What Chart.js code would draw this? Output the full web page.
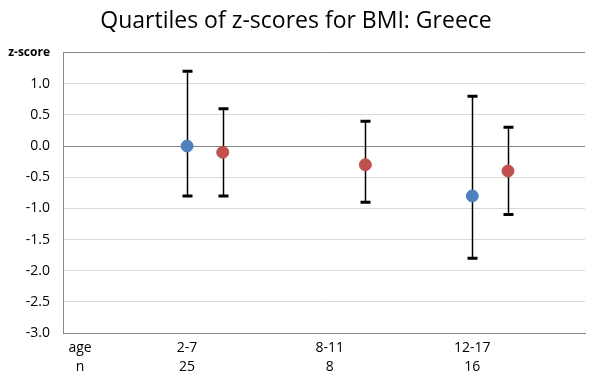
<!DOCTYPE html>
<html>
<head>
<meta charset="utf-8">
<script src="https://cdn.jsdelivr.net/npm/chart.js@4"></script>
<style>
  body { margin: 0; background: #fff; }
  canvas { display: block; }
</style>
</head>
<body>
<canvas id="chart" width="592" height="385"></canvas>
<script>
// Age groups and sample sizes
const ages = ['2-7', '8-11', '12-17'];
const counts = [25, 8, 16];
const catPos = [1, 2, 3];

// Blue series: median and quartiles
const blueMedian = [0.0, null, -0.8];
const blueQ1 = [-0.8, null, -1.8];
const blueQ3 = [1.2, null, 0.8];

// Red series: median and quartiles
const redMedian = [-0.1, -0.3, -0.4];
const redQ1 = [-0.8, -0.9, -1.1];
const redQ3 = [0.6, 0.4, 0.3];
const redOffset = 0.25;

// Y axis
const yMin = -3.0;
const yMax = 1.5;
const yStep = 0.5;

const FONT = "'Open Sans', 'DejaVu Sans', sans-serif";

function makePoints(med, q1, q3, off) {
    const pts = [];
    med.forEach((m, i) => {
        if (m === null) return;
        pts.push({ x: catPos[i] + off, y: m, q1: q1[i], q3: q3[i] });
    });
    return pts;
}

const bluePoints = makePoints(blueMedian, blueQ1, blueQ3, 0);
const redPoints = makePoints(redMedian, redQ1, redQ3, redOffset);

// Whiskers from q1 to q3, drawn under the points
const quartileBars = {
    id: 'quartileBars',
    beforeDatasetsDraw(chart) {
        const ctx = chart.ctx;
        const xs = chart.scales.x;
        const ys = chart.scales.y;
        ctx.save();
        ctx.strokeStyle = '#000';
        chart.data.datasets.forEach(ds => {
            ds.data.forEach(p => {
                const px = Math.round(xs.getPixelForValue(p.x)) + 0.5;
                const top = ys.getPixelForValue(p.q3);
                const bot = ys.getPixelForValue(p.q1);
                ctx.lineWidth = 1.5;
                ctx.beginPath();
                ctx.moveTo(px, top);
                ctx.lineTo(px, bot);
                ctx.stroke();
                ctx.lineWidth = 3;
                ctx.beginPath();
                ctx.moveTo(px - 5, top);
                ctx.lineTo(px + 5, top);
                ctx.moveTo(px - 5, bot);
                ctx.lineTo(px + 5, bot);
                ctx.stroke();
            });
        });
        ctx.restore();
    }
};

new Chart(document.getElementById('chart').getContext('2d'), {
    type: 'scatter',
    data: {
        datasets: [
            {
                label: 'blue',
                data: bluePoints,
                backgroundColor: '#4f81bd',
                borderColor: '#4f81bd',
                pointRadius: 6,
                pointHoverRadius: 6
            },
            {
                label: 'red',
                data: redPoints,
                backgroundColor: '#c0504d',
                borderColor: '#c0504d',
                pointRadius: 6,
                pointHoverRadius: 6
            }
        ]
    },
    options: {
        responsive: false,
        animation: false,
        events: [],
        layout: { padding: { left: 0, right: 0, top: 0, bottom: 0 } },
        plugins: {
            legend: { display: false },
            tooltip: { enabled: false },
            title: {
                display: true,
                text: 'Quartiles of z-scores for BMI: Greece',
                color: '#000',
                font: { family: FONT, size: 23, weight: 'normal' },
                padding: { top: 8, bottom: 17 }
            }
        },
        scales: {
            x: {
                type: 'linear',
                min: 0.13,
                max: 3.79,
                afterBuildTicks: scale => {
                    scale.ticks = [{ value: 0.25 }].concat(catPos.map(v => ({ value: v })));
                },
                afterFit: scale => { scale.height = 52; },
                ticks: {
                    autoSkip: false,
                    maxRotation: 0,
                    padding: 5,
                    color: '#000',
                    font: { family: FONT, size: 14, lineHeight: 1.4 },
                    callback: (value) => {
                        if (value === 0.25) return ['age', 'n'];
                        const i = catPos.indexOf(value);
                        return i >= 0 ? [ages[i], String(counts[i])] : '';
                    }
                },
                grid: { display: false, drawTicks: false },
                border: { display: true, color: '#868686', width: 1 }
            },
            y: {
                min: yMin,
                max: yMax,
                afterFit: scale => { scale.width = 63; },
                ticks: {
                    stepSize: yStep,
                    padding: 13,
                    color: '#000',
                    font: ctx => ctx.tick && ctx.tick.value === yMax
                        ? { family: FONT, size: 12, weight: 'bold' }
                        : { family: FONT, size: 14 },
                    callback: (value) => value === yMax ? 'z-score' : value.toFixed(1)
                },
                grid: {
                    drawTicks: false,
                    color: ctx => (ctx.tick && (ctx.tick.value === 0 || ctx.tick.value === yMax)) ? '#868686' : '#d9d9d9',
                    lineWidth: 1
                },
                border: { display: true, color: '#868686', width: 1 }
            }
        }
    },
    plugins: [quartileBars]
});
</script>
</body>
</html>
